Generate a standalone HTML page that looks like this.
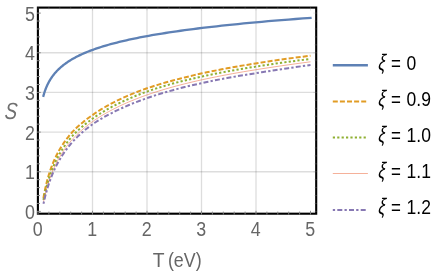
<!DOCTYPE html>
<html><head><meta charset="utf-8"><title>S vs T</title>
<style>html,body{margin:0;padding:0;background:#fff}svg{display:block;will-change:transform}text{font-family:"Liberation Sans",sans-serif}</style></head><body>
<svg width="436" height="273" viewBox="0 0 436 273">
<rect width="436" height="273" fill="#fff"/>
<g stroke="#000" stroke-opacity="0.135" stroke-width="1.3"><line x1="92.50" y1="7.60" x2="92.50" y2="213.70"/><line x1="147.00" y1="7.60" x2="147.00" y2="213.70"/><line x1="201.50" y1="7.60" x2="201.50" y2="213.70"/><line x1="256.00" y1="7.60" x2="256.00" y2="213.70"/><line x1="37.90" y1="171.74" x2="316.20" y2="171.74"/><line x1="37.90" y1="132.08" x2="316.20" y2="132.08"/><line x1="37.90" y1="92.42" x2="316.20" y2="92.42"/><line x1="37.90" y1="52.76" x2="316.20" y2="52.76"/></g>
<g fill="none" stroke-linejoin="round">
<path d="M43.45 95.75 L43.61 95.19 L43.77 94.63 L43.93 94.07 L44.10 93.51 L44.27 92.95 L44.45 92.39 L44.64 91.83 L44.83 91.26 L45.02 90.70 L45.22 90.14 L45.43 89.58 L45.64 89.02 L45.86 88.46 L46.08 87.90 L46.31 87.34 L46.55 86.78 L46.79 86.22 L47.04 85.66 L47.30 85.10 L47.57 84.54 L47.84 83.98 L48.12 83.42 L48.41 82.86 L48.71 82.30 L49.01 81.74 L49.33 81.18 L49.65 80.62 L49.98 80.06 L50.33 79.50 L50.68 78.94 L51.04 78.38 L51.41 77.82 L51.80 77.26 L52.19 76.70 L52.59 76.14 L53.01 75.58 L53.44 75.02 L53.88 74.45 L54.33 73.89 L54.80 73.33 L55.28 72.77 L55.77 72.21 L56.28 71.65 L56.80 71.09 L57.34 70.53 L57.89 69.97 L58.46 69.41 L59.04 68.85 L59.64 68.29 L60.26 67.73 L60.90 67.17 L61.55 66.61 L62.22 66.05 L62.91 65.49 L63.62 64.93 L64.36 64.37 L65.11 63.81 L65.88 63.25 L66.68 62.69 L67.50 62.13 L68.34 61.57 L69.20 61.01 L70.09 60.45 L71.01 59.89 L71.95 59.33 L72.92 58.77 L73.92 58.21 L74.94 57.65 L76.00 57.08 L77.08 56.52 L78.20 55.96 L79.35 55.40 L80.53 54.84 L81.74 54.28 L82.99 53.72 L84.27 53.16 L85.59 52.60 L86.95 52.04 L88.35 51.48 L89.79 50.92 L91.27 50.36 L92.79 49.80 L94.35 49.24 L95.96 48.68 L97.61 48.12 L99.31 47.56 L101.06 47.00 L102.86 46.44 L104.72 45.88 L106.62 45.32 L108.58 44.76 L110.59 44.20 L112.67 43.64 L114.80 43.08 L116.99 42.52 L119.24 41.96 L121.56 41.40 L123.95 40.84 L126.40 40.27 L128.92 39.71 L131.52 39.15 L134.19 38.59 L136.93 38.03 L139.76 37.47 L142.66 36.91 L145.65 36.35 L148.72 35.79 L151.88 35.23 L155.13 34.67 L158.48 34.11 L161.92 33.55 L165.45 32.99 L169.09 32.43 L172.83 31.87 L176.68 31.31 L180.64 30.75 L184.71 30.19 L188.90 29.63 L193.21 29.07 L197.64 28.51 L202.19 27.95 L206.88 27.39 L211.70 26.83 L216.66 26.27 L221.76 25.71 L227.00 25.15 L232.40 24.59 L237.95 24.03 L243.65 23.46 L249.52 22.90 L255.56 22.34 L261.77 21.78 L268.16 21.22 L274.73 20.66 L281.49 20.10 L288.44 19.54 L295.59 18.98 L302.94 18.42 L310.50 17.86" stroke="#5E81B5" stroke-width="2.3" stroke-linecap="square"/>
<path d="M43.45 197.99 L43.61 197.09 L43.77 196.18 L43.93 195.26 L44.10 194.35 L44.27 193.42 L44.45 192.50 L44.64 191.57 L44.83 190.63 L45.02 189.69 L45.22 188.75 L45.43 187.80 L45.64 186.85 L45.86 185.90 L46.08 184.94 L46.31 183.98 L46.55 183.01 L46.79 182.04 L47.04 181.07 L47.30 180.09 L47.57 179.11 L47.84 178.13 L48.12 177.15 L48.41 176.16 L48.71 175.16 L49.01 174.17 L49.33 173.17 L49.65 172.17 L49.98 171.16 L50.33 170.15 L50.68 169.14 L51.04 168.13 L51.41 167.11 L51.80 166.10 L52.19 165.07 L52.59 164.05 L53.01 163.02 L53.44 162.00 L53.88 160.96 L54.33 159.93 L54.80 158.90 L55.28 157.86 L55.77 156.82 L56.28 155.78 L56.80 154.73 L57.34 153.69 L57.89 152.64 L58.46 151.59 L59.04 150.54 L59.64 149.49 L60.26 148.44 L60.90 147.38 L61.55 146.32 L62.22 145.27 L62.91 144.21 L63.62 143.14 L64.36 142.08 L65.11 141.02 L65.88 139.95 L66.68 138.89 L67.50 137.82 L68.34 136.76 L69.20 135.69 L70.09 134.62 L71.01 133.55 L71.95 132.49 L72.92 131.43 L73.92 130.39 L74.94 129.35 L76.00 128.32 L77.08 127.29 L78.20 126.26 L79.35 125.24 L80.53 124.21 L81.74 123.19 L82.99 122.16 L84.27 121.13 L85.59 120.10 L86.95 119.06 L88.35 118.02 L89.79 116.97 L91.27 115.91 L92.79 114.84 L94.35 113.76 L95.96 112.68 L97.61 111.60 L99.31 110.52 L101.06 109.43 L102.86 108.34 L104.72 107.25 L106.62 106.16 L108.58 105.07 L110.59 103.98 L112.67 102.89 L114.80 101.79 L116.99 100.70 L119.24 99.61 L121.56 98.53 L123.95 97.44 L126.40 96.36 L128.92 95.27 L131.52 94.17 L134.19 93.08 L136.93 91.99 L139.76 90.90 L142.66 89.83 L145.65 88.77 L148.72 87.72 L151.88 86.68 L155.13 85.64 L158.48 84.61 L161.92 83.57 L165.45 82.54 L169.09 81.51 L172.83 80.48 L176.68 79.45 L180.64 78.43 L184.71 77.41 L188.90 76.39 L193.21 75.37 L197.64 74.36 L202.19 73.35 L206.88 72.34 L211.70 71.34 L216.66 70.34 L221.76 69.34 L227.00 68.34 L232.40 67.35 L237.95 66.36 L243.65 65.37 L249.52 64.39 L255.56 63.41 L261.77 62.43 L268.16 61.46 L274.73 60.49 L281.49 59.53 L288.44 58.56 L295.59 57.61 L302.94 56.65 L310.50 55.70" stroke="#E19C24" stroke-width="2" stroke-dasharray="5 2.1"/>
<path d="M43.45 199.83 L43.61 199.05 L43.77 198.26 L43.93 197.47 L44.10 196.66 L44.27 195.85 L44.45 195.03 L44.64 194.20 L44.83 193.37 L45.02 192.53 L45.22 191.67 L45.43 190.82 L45.64 189.95 L45.86 189.08 L46.08 188.20 L46.31 187.31 L46.55 186.42 L46.79 185.52 L47.04 184.61 L47.30 183.70 L47.57 182.78 L47.84 181.85 L48.12 180.92 L48.41 179.98 L48.71 179.03 L49.01 178.08 L49.33 177.12 L49.65 176.16 L49.98 175.19 L50.33 174.22 L50.68 173.24 L51.04 172.26 L51.41 171.27 L51.80 170.28 L52.19 169.28 L52.59 168.27 L53.01 167.26 L53.44 166.25 L53.88 165.23 L54.33 164.21 L54.80 163.19 L55.28 162.16 L55.77 161.12 L56.28 160.08 L56.80 159.04 L57.34 158.00 L57.89 156.95 L58.46 155.89 L59.04 154.84 L59.64 153.78 L60.26 152.72 L60.90 151.65 L61.55 150.58 L62.22 149.51 L62.91 148.44 L63.62 147.36 L64.36 146.28 L65.11 145.20 L65.88 144.11 L66.68 143.03 L67.50 141.94 L68.34 140.85 L69.20 139.76 L70.09 138.67 L71.01 137.57 L71.95 136.49 L72.92 135.41 L73.92 134.35 L74.94 133.29 L76.00 132.24 L77.08 131.20 L78.20 130.16 L79.35 129.12 L80.53 128.08 L81.74 127.04 L82.99 126.00 L84.27 124.95 L85.59 123.90 L86.95 122.84 L88.35 121.78 L89.79 120.70 L91.27 119.61 L92.79 118.51 L94.35 117.41 L95.96 116.30 L97.61 115.20 L99.31 114.10 L101.06 113.00 L102.86 111.89 L104.72 110.80 L106.62 109.70 L108.58 108.60 L110.59 107.51 L112.67 106.41 L114.80 105.32 L116.99 104.23 L119.24 103.14 L121.56 102.06 L123.95 100.97 L126.40 99.89 L128.92 98.77 L131.52 97.64 L134.19 96.50 L136.93 95.36 L139.76 94.22 L142.66 93.09 L145.65 92.00 L148.72 90.93 L151.88 89.86 L155.13 88.80 L158.48 87.75 L161.92 86.70 L165.45 85.65 L169.09 84.61 L172.83 83.58 L176.68 82.54 L180.64 81.51 L184.71 80.49 L188.90 79.47 L193.21 78.45 L197.64 77.44 L202.19 76.43 L206.88 75.43 L211.70 74.43 L216.66 73.44 L221.76 72.45 L227.00 71.46 L232.40 70.49 L237.95 69.51 L243.65 68.54 L249.52 67.58 L255.56 66.62 L261.77 65.66 L268.16 64.70 L274.73 63.73 L281.49 62.77 L288.44 61.80 L295.59 60.84 L302.94 59.88 L310.50 58.93" stroke="#8FB032" stroke-width="2" stroke-dasharray="2.2 2.2"/>
<path d="M43.45 201.89 L43.61 201.15 L43.77 200.41 L43.93 199.66 L44.10 198.90 L44.27 198.12 L44.45 197.34 L44.64 196.56 L44.83 195.76 L45.02 194.95 L45.22 194.14 L45.43 193.32 L45.64 192.48 L45.86 191.64 L46.08 190.80 L46.31 189.94 L46.55 189.08 L46.79 188.21 L47.04 187.33 L47.30 186.44 L47.57 185.55 L47.84 184.65 L48.12 183.74 L48.41 182.83 L48.71 181.91 L49.01 180.98 L49.33 180.04 L49.65 179.10 L49.98 178.16 L50.33 177.20 L50.68 176.24 L51.04 175.28 L51.41 174.30 L51.80 173.33 L52.19 172.34 L52.59 171.36 L53.01 170.36 L53.44 169.36 L53.88 168.36 L54.33 167.35 L54.80 166.34 L55.28 165.32 L55.77 164.30 L56.28 163.27 L56.80 162.24 L57.34 161.21 L57.89 160.17 L58.46 159.13 L59.04 158.08 L59.64 157.03 L60.26 155.98 L60.90 154.92 L61.55 153.86 L62.22 152.80 L62.91 151.73 L63.62 150.66 L64.36 149.59 L65.11 148.51 L65.88 147.44 L66.68 146.36 L67.50 145.27 L68.34 144.19 L69.20 143.10 L70.09 142.01 L71.01 140.92 L71.95 139.84 L72.92 138.75 L73.92 137.67 L74.94 136.59 L76.00 135.51 L77.08 134.43 L78.20 133.35 L79.35 132.28 L80.53 131.20 L81.74 130.13 L82.99 129.05 L84.27 127.97 L85.59 126.90 L86.95 125.82 L88.35 124.73 L89.79 123.65 L91.27 122.56 L92.79 121.47 L94.35 120.38 L95.96 119.29 L97.61 118.20 L99.31 117.12 L101.06 116.03 L102.86 114.95 L104.72 113.86 L106.62 112.77 L108.58 111.69 L110.59 110.60 L112.67 109.52 L114.80 108.43 L116.99 107.34 L119.24 106.25 L121.56 105.16 L123.95 104.07 L126.40 102.98 L128.92 101.89 L131.52 100.80 L134.19 99.72 L136.93 98.63 L139.76 97.55 L142.66 96.48 L145.65 95.40 L148.72 94.33 L151.88 93.26 L155.13 92.20 L158.48 91.14 L161.92 90.08 L165.45 89.02 L169.09 87.97 L172.83 86.93 L176.68 85.89 L180.64 84.85 L184.71 83.82 L188.90 82.79 L193.21 81.76 L197.64 80.74 L202.19 79.73 L206.88 78.71 L211.70 77.71 L216.66 76.70 L221.76 75.70 L227.00 74.70 L232.40 73.70 L237.95 72.71 L243.65 71.73 L249.52 70.74 L255.56 69.77 L261.77 68.79 L268.16 67.80 L274.73 66.81 L281.49 65.81 L288.44 64.81 L295.59 63.80 L302.94 62.81 L310.50 61.81" stroke="#EB6235" stroke-width="0.5"/>
<path d="M43.45 203.83 L43.61 203.12 L43.77 202.41 L43.93 201.68 L44.10 200.94 L44.27 200.19 L44.45 199.44 L44.64 198.67 L44.83 197.89 L45.02 197.11 L45.22 196.32 L45.43 195.51 L45.64 194.70 L45.86 193.88 L46.08 193.05 L46.31 192.21 L46.55 191.37 L46.79 190.52 L47.04 189.65 L47.30 188.79 L47.57 187.91 L47.84 187.02 L48.12 186.13 L48.41 185.23 L48.71 184.32 L49.01 183.41 L49.33 182.49 L49.65 181.56 L49.98 180.63 L50.33 179.69 L50.68 178.74 L51.04 177.78 L51.41 176.82 L51.80 175.86 L52.19 174.89 L52.59 173.91 L53.01 172.92 L53.44 171.94 L53.88 170.94 L54.33 169.94 L54.80 168.94 L55.28 167.93 L55.77 166.92 L56.28 165.90 L56.80 164.88 L57.34 163.85 L57.89 162.82 L58.46 161.78 L59.04 160.75 L59.64 159.70 L60.26 158.66 L60.90 157.61 L61.55 156.55 L62.22 155.49 L62.91 154.43 L63.62 153.37 L64.36 152.30 L65.11 151.24 L65.88 150.16 L66.68 149.09 L67.50 148.01 L68.34 146.93 L69.20 145.85 L70.09 144.77 L71.01 143.68 L71.95 142.59 L72.92 141.51 L73.92 140.42 L74.94 139.33 L76.00 138.24 L77.08 137.16 L78.20 136.07 L79.35 134.98 L80.53 133.89 L81.74 132.80 L82.99 131.72 L84.27 130.63 L85.59 129.54 L86.95 128.46 L88.35 127.37 L89.79 126.28 L91.27 125.20 L92.79 124.11 L94.35 123.04 L95.96 121.97 L97.61 120.90 L99.31 119.85 L101.06 118.80 L102.86 117.75 L104.72 116.70 L106.62 115.66 L108.58 114.61 L110.59 113.57 L112.67 112.52 L114.80 111.47 L116.99 110.41 L119.24 109.35 L121.56 108.28 L123.95 107.21 L126.40 106.13 L128.92 105.04 L131.52 103.96 L134.19 102.88 L136.93 101.81 L139.76 100.74 L142.66 99.67 L145.65 98.60 L148.72 97.54 L151.88 96.48 L155.13 95.42 L158.48 94.37 L161.92 93.32 L165.45 92.27 L169.09 91.22 L172.83 90.18 L176.68 89.14 L180.64 88.10 L184.71 87.07 L188.90 86.05 L193.21 85.03 L197.64 84.01 L202.19 83.00 L206.88 82.00 L211.70 81.00 L216.66 80.01 L221.76 79.02 L227.00 78.04 L232.40 77.07 L237.95 76.09 L243.65 75.13 L249.52 74.16 L255.56 73.21 L261.77 72.24 L268.16 71.24 L274.73 70.23 L281.49 69.20 L288.44 68.15 L295.59 67.11 L302.94 66.06 L310.50 65.01" stroke="#8778B3" stroke-width="2" stroke-dasharray="2.3 2.2 5 2.2"/>
</g>
<rect x="37.90" y="7.60" width="278.30" height="206.10" fill="none" stroke="#000" stroke-width="2.1"/>
<g stroke="#858585" stroke-width="1" stroke-opacity="0.95"><line x1="38.00" y1="214.60" x2="38.00" y2="210.80"/><line x1="37.00" y1="211.40" x2="40.80" y2="211.40"/><line x1="48.90" y1="214.60" x2="48.90" y2="211.60"/><line x1="37.00" y1="203.47" x2="40.00" y2="203.47"/><line x1="59.80" y1="214.60" x2="59.80" y2="211.60"/><line x1="37.00" y1="195.54" x2="40.00" y2="195.54"/><line x1="70.70" y1="214.60" x2="70.70" y2="211.60"/><line x1="37.00" y1="187.60" x2="40.00" y2="187.60"/><line x1="81.60" y1="214.60" x2="81.60" y2="211.60"/><line x1="37.00" y1="179.67" x2="40.00" y2="179.67"/><line x1="92.50" y1="214.60" x2="92.50" y2="210.80"/><line x1="37.00" y1="171.74" x2="40.80" y2="171.74"/><line x1="103.40" y1="214.60" x2="103.40" y2="211.60"/><line x1="37.00" y1="163.81" x2="40.00" y2="163.81"/><line x1="114.30" y1="214.60" x2="114.30" y2="211.60"/><line x1="37.00" y1="155.88" x2="40.00" y2="155.88"/><line x1="125.20" y1="214.60" x2="125.20" y2="211.60"/><line x1="37.00" y1="147.94" x2="40.00" y2="147.94"/><line x1="136.10" y1="214.60" x2="136.10" y2="211.60"/><line x1="37.00" y1="140.01" x2="40.00" y2="140.01"/><line x1="147.00" y1="214.60" x2="147.00" y2="210.80"/><line x1="37.00" y1="132.08" x2="40.80" y2="132.08"/><line x1="157.90" y1="214.60" x2="157.90" y2="211.60"/><line x1="37.00" y1="124.15" x2="40.00" y2="124.15"/><line x1="168.80" y1="214.60" x2="168.80" y2="211.60"/><line x1="37.00" y1="116.22" x2="40.00" y2="116.22"/><line x1="179.70" y1="214.60" x2="179.70" y2="211.60"/><line x1="37.00" y1="108.28" x2="40.00" y2="108.28"/><line x1="190.60" y1="214.60" x2="190.60" y2="211.60"/><line x1="37.00" y1="100.35" x2="40.00" y2="100.35"/><line x1="201.50" y1="214.60" x2="201.50" y2="210.80"/><line x1="37.00" y1="92.42" x2="40.80" y2="92.42"/><line x1="212.40" y1="214.60" x2="212.40" y2="211.60"/><line x1="37.00" y1="84.49" x2="40.00" y2="84.49"/><line x1="223.30" y1="214.60" x2="223.30" y2="211.60"/><line x1="37.00" y1="76.56" x2="40.00" y2="76.56"/><line x1="234.20" y1="214.60" x2="234.20" y2="211.60"/><line x1="37.00" y1="68.62" x2="40.00" y2="68.62"/><line x1="245.10" y1="214.60" x2="245.10" y2="211.60"/><line x1="37.00" y1="60.69" x2="40.00" y2="60.69"/><line x1="256.00" y1="214.60" x2="256.00" y2="210.80"/><line x1="37.00" y1="52.76" x2="40.80" y2="52.76"/><line x1="266.90" y1="214.60" x2="266.90" y2="211.60"/><line x1="37.00" y1="44.83" x2="40.00" y2="44.83"/><line x1="277.80" y1="214.60" x2="277.80" y2="211.60"/><line x1="37.00" y1="36.90" x2="40.00" y2="36.90"/><line x1="288.70" y1="214.60" x2="288.70" y2="211.60"/><line x1="37.00" y1="28.96" x2="40.00" y2="28.96"/><line x1="299.60" y1="214.60" x2="299.60" y2="211.60"/><line x1="37.00" y1="21.03" x2="40.00" y2="21.03"/><line x1="310.50" y1="214.60" x2="310.50" y2="210.80"/><line x1="37.00" y1="13.10" x2="40.80" y2="13.10"/></g>
<g stroke="#999" stroke-width="0.7" stroke-opacity="0.35"><line x1="38.00" y1="6.70" x2="38.00" y2="10.50"/><line x1="317.10" y1="211.40" x2="313.30" y2="211.40"/><line x1="48.90" y1="6.70" x2="48.90" y2="9.70"/><line x1="317.10" y1="203.47" x2="314.10" y2="203.47"/><line x1="59.80" y1="6.70" x2="59.80" y2="9.70"/><line x1="317.10" y1="195.54" x2="314.10" y2="195.54"/><line x1="70.70" y1="6.70" x2="70.70" y2="9.70"/><line x1="317.10" y1="187.60" x2="314.10" y2="187.60"/><line x1="81.60" y1="6.70" x2="81.60" y2="9.70"/><line x1="317.10" y1="179.67" x2="314.10" y2="179.67"/><line x1="92.50" y1="6.70" x2="92.50" y2="10.50"/><line x1="317.10" y1="171.74" x2="313.30" y2="171.74"/><line x1="103.40" y1="6.70" x2="103.40" y2="9.70"/><line x1="317.10" y1="163.81" x2="314.10" y2="163.81"/><line x1="114.30" y1="6.70" x2="114.30" y2="9.70"/><line x1="317.10" y1="155.88" x2="314.10" y2="155.88"/><line x1="125.20" y1="6.70" x2="125.20" y2="9.70"/><line x1="317.10" y1="147.94" x2="314.10" y2="147.94"/><line x1="136.10" y1="6.70" x2="136.10" y2="9.70"/><line x1="317.10" y1="140.01" x2="314.10" y2="140.01"/><line x1="147.00" y1="6.70" x2="147.00" y2="10.50"/><line x1="317.10" y1="132.08" x2="313.30" y2="132.08"/><line x1="157.90" y1="6.70" x2="157.90" y2="9.70"/><line x1="317.10" y1="124.15" x2="314.10" y2="124.15"/><line x1="168.80" y1="6.70" x2="168.80" y2="9.70"/><line x1="317.10" y1="116.22" x2="314.10" y2="116.22"/><line x1="179.70" y1="6.70" x2="179.70" y2="9.70"/><line x1="317.10" y1="108.28" x2="314.10" y2="108.28"/><line x1="190.60" y1="6.70" x2="190.60" y2="9.70"/><line x1="317.10" y1="100.35" x2="314.10" y2="100.35"/><line x1="201.50" y1="6.70" x2="201.50" y2="10.50"/><line x1="317.10" y1="92.42" x2="313.30" y2="92.42"/><line x1="212.40" y1="6.70" x2="212.40" y2="9.70"/><line x1="317.10" y1="84.49" x2="314.10" y2="84.49"/><line x1="223.30" y1="6.70" x2="223.30" y2="9.70"/><line x1="317.10" y1="76.56" x2="314.10" y2="76.56"/><line x1="234.20" y1="6.70" x2="234.20" y2="9.70"/><line x1="317.10" y1="68.62" x2="314.10" y2="68.62"/><line x1="245.10" y1="6.70" x2="245.10" y2="9.70"/><line x1="317.10" y1="60.69" x2="314.10" y2="60.69"/><line x1="256.00" y1="6.70" x2="256.00" y2="10.50"/><line x1="317.10" y1="52.76" x2="313.30" y2="52.76"/><line x1="266.90" y1="6.70" x2="266.90" y2="9.70"/><line x1="317.10" y1="44.83" x2="314.10" y2="44.83"/><line x1="277.80" y1="6.70" x2="277.80" y2="9.70"/><line x1="317.10" y1="36.90" x2="314.10" y2="36.90"/><line x1="288.70" y1="6.70" x2="288.70" y2="9.70"/><line x1="317.10" y1="28.96" x2="314.10" y2="28.96"/><line x1="299.60" y1="6.70" x2="299.60" y2="9.70"/><line x1="317.10" y1="21.03" x2="314.10" y2="21.03"/><line x1="310.50" y1="6.70" x2="310.50" y2="10.50"/><line x1="317.10" y1="13.10" x2="313.30" y2="13.10"/></g>
<text transform="translate(37.80 236.30) scale(0.850 1)" font-size="21.00" text-anchor="middle" fill="#666" >0</text>
<text transform="translate(34.80 219.10) scale(0.850 1)" font-size="21.00" text-anchor="end" fill="#666" >0</text>
<text transform="translate(92.30 236.30) scale(0.850 1)" font-size="21.00" text-anchor="middle" fill="#666" >1</text>
<text transform="translate(34.80 179.44) scale(0.850 1)" font-size="21.00" text-anchor="end" fill="#666" >1</text>
<text transform="translate(146.80 236.30) scale(0.850 1)" font-size="21.00" text-anchor="middle" fill="#666" >2</text>
<text transform="translate(34.80 139.78) scale(0.850 1)" font-size="21.00" text-anchor="end" fill="#666" >2</text>
<text transform="translate(201.30 236.30) scale(0.850 1)" font-size="21.00" text-anchor="middle" fill="#666" >3</text>
<text transform="translate(34.80 100.12) scale(0.850 1)" font-size="21.00" text-anchor="end" fill="#666" >3</text>
<text transform="translate(255.80 236.30) scale(0.850 1)" font-size="21.00" text-anchor="middle" fill="#666" >4</text>
<text transform="translate(34.80 60.46) scale(0.850 1)" font-size="21.00" text-anchor="end" fill="#666" >4</text>
<text transform="translate(310.30 236.30) scale(0.850 1)" font-size="21.00" text-anchor="middle" fill="#666" >5</text>
<text transform="translate(34.80 20.80) scale(0.850 1)" font-size="21.00" text-anchor="end" fill="#666" >5</text>
<text transform="translate(152.70 266.80) scale(0.920 1)" font-size="21.00" text-anchor="start" fill="#666" >T </text>
<text transform="translate(201.60 266.80) scale(0.850 1)" font-size="21.00" text-anchor="end" fill="#666" >(eV)</text>
<text transform="translate(10.4 118.9) skewX(-5) scale(0.8 1)" font-size="23.4" text-anchor="middle" fill="#707070" font-style="italic">S</text>
<line x1="332.8" y1="65.30" x2="367.9" y2="65.30" stroke="#5E81B5" stroke-width="2.4"/>
<text transform="translate(377.9 70.00) skewX(-5) scale(0.70 1)" font-size="22.6" fill="#000" font-style="italic">ξ</text>
<text transform="translate(391.00 70.80) scale(0.770 1)" font-size="22.00" text-anchor="start" fill="#000" >=</text>
<text transform="translate(406.60 69.80) scale(0.835 1)" font-size="21.00" text-anchor="start" fill="#000" >0</text>
<line x1="332.8" y1="101.60" x2="367.9" y2="101.60" stroke="#E19C24" stroke-width="2" stroke-dasharray="5 2.1"/>
<text transform="translate(377.9 106.10) skewX(-5) scale(0.70 1)" font-size="22.6" fill="#000" font-style="italic">ξ</text>
<text transform="translate(391.00 106.90) scale(0.770 1)" font-size="22.00" text-anchor="start" fill="#000" >=</text>
<text transform="translate(406.60 105.90) scale(0.835 1)" font-size="21.00" text-anchor="start" fill="#000" >0.9</text>
<line x1="332.8" y1="137.50" x2="367.9" y2="137.50" stroke="#8FB032" stroke-width="2" stroke-dasharray="2.2 2.2"/>
<text transform="translate(377.9 142.10) skewX(-5) scale(0.70 1)" font-size="22.6" fill="#000" font-style="italic">ξ</text>
<text transform="translate(391.00 142.90) scale(0.770 1)" font-size="22.00" text-anchor="start" fill="#000" >=</text>
<text transform="translate(406.60 141.90) scale(0.835 1)" font-size="21.00" text-anchor="start" fill="#000" >1.0</text>
<line x1="332.8" y1="173.50" x2="367.9" y2="173.50" stroke="#EB6235" stroke-width="0.5"/>
<text transform="translate(377.9 178.20) skewX(-5) scale(0.70 1)" font-size="22.6" fill="#000" font-style="italic">ξ</text>
<text transform="translate(391.00 179.00) scale(0.770 1)" font-size="22.00" text-anchor="start" fill="#000" >=</text>
<text transform="translate(406.60 178.00) scale(0.835 1)" font-size="21.00" text-anchor="start" fill="#000" >1.1</text>
<line x1="332.8" y1="209.90" x2="367.9" y2="209.90" stroke="#8778B3" stroke-width="2" stroke-dasharray="2.3 2.2 5 2.2"/>
<text transform="translate(377.9 214.30) skewX(-5) scale(0.70 1)" font-size="22.6" fill="#000" font-style="italic">ξ</text>
<text transform="translate(391.00 215.10) scale(0.770 1)" font-size="22.00" text-anchor="start" fill="#000" >=</text>
<text transform="translate(406.60 214.10) scale(0.835 1)" font-size="21.00" text-anchor="start" fill="#000" >1.2</text>
</svg></body></html>
